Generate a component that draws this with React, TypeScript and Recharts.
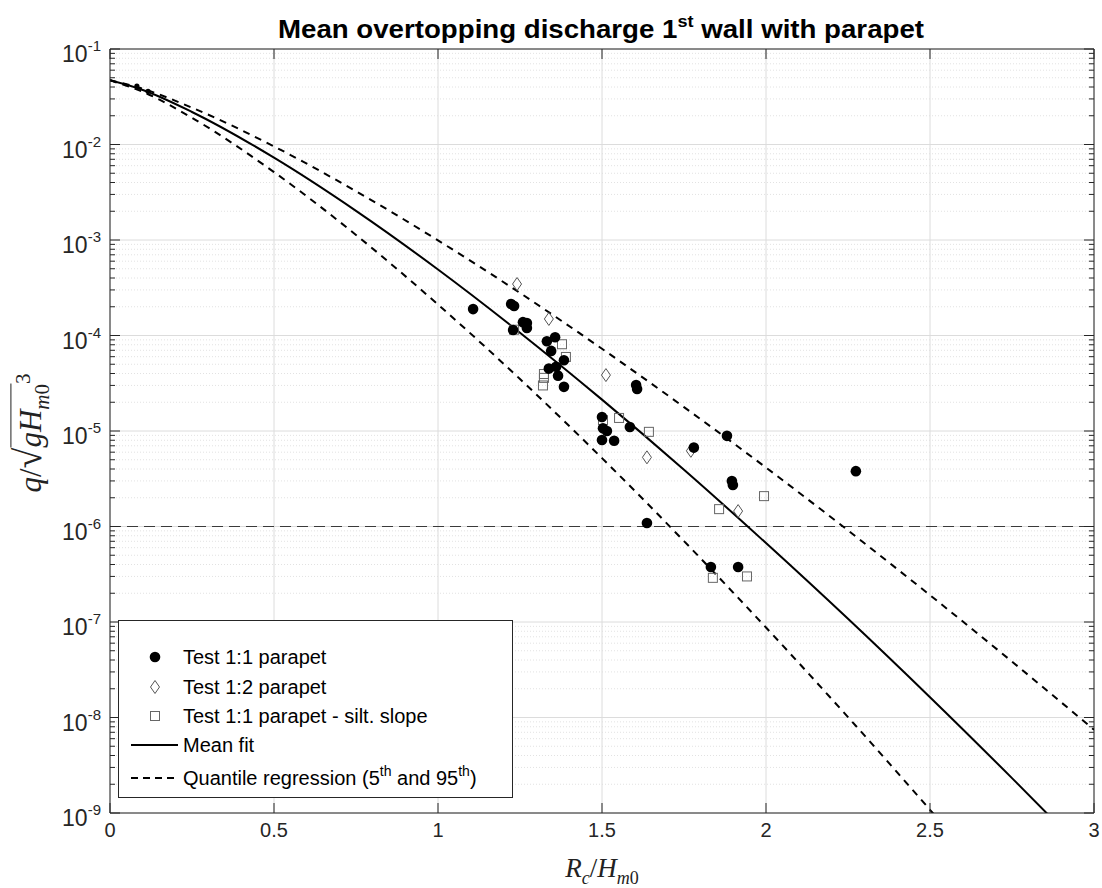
import React from "react";
import { ComposedChart, Line, Scatter, XAxis, YAxis, CartesianGrid, ReferenceLine } from "recharts";

const W = 1102;
const H = 888;
const PLOT = { left: 110, right: 1094, top: 49, bottom: 813 };
const AXIS = "#262626";

// axis ticks
const xTicks = [0, 0.5, 1, 1.5, 2, 2.5, 3];
const decades = [1e-9, 1e-8, 1e-7, 1e-6, 1e-5, 1e-4, 1e-3, 1e-2, 1e-1];
const minorSteps = [2, 3, 4, 5, 6, 7, 8, 9];
const threshold = 1e-6;

// fitted curves
const fitX = [0, 0.1, 0.25, 0.5, 0.75, 1, 1.25, 1.5, 1.75, 2, 2.25, 2.5, 2.75, 3];
const meanFit = [4.7e-2, 3.72e-2, 2.19e-2, 7.28e-3, 2.02e-3, 4.91e-4, 1.07e-4, 2.13e-5, 3.93e-6, 6.71e-7, 1.08e-7, 1.63e-8, 2.32e-9, 3.15e-10];
const upperQuantile = [4.7e-2, 3.83e-2, 2.43e-2, 9.55e-3, 3.24e-3, 9.91e-4, 2.79e-4, 7.26e-5, 1.78e-5, 4.14e-6, 9.1e-7, 1.91e-7, 3.85e-8, 7.45e-9];
const lowerQuantile = [4.7e-2, 3.56e-2, 1.9e-2, 5.14e-3, 1.13e-3, 2.11e-4, 3.5e-5, 5.2e-6, 7.03e-7, 8.75e-8, 1.01e-8, 1.08e-9, 1.09e-10, 1.0e-11];

// Test 1:1 parapet
const test11X = [1.107, 1.223, 1.232, 1.259, 1.271, 1.271, 1.229, 1.357, 1.332, 1.345, 1.384, 1.338, 1.36, 1.366, 1.384, 1.604, 1.607, 1.5, 1.503, 1.515, 1.585, 1.5, 1.537, 1.78, 1.881, 1.896, 1.899, 2.274, 1.637, 1.832, 1.915];
const test11Y = [1.89e-4, 2.14e-4, 2.04e-4, 1.38e-4, 1.35e-4, 1.2e-4, 1.14e-4, 9.6e-5, 8.7e-5, 6.9e-5, 5.5e-5, 4.5e-5, 4.7e-5, 3.8e-5, 2.9e-5, 3.03e-5, 2.75e-5, 1.4e-5, 1.07e-5, 1.0e-5, 1.1e-5, 8.05e-6, 7.9e-6, 6.7e-6, 8.9e-6, 3.0e-6, 2.72e-6, 3.8e-6, 1.09e-6, 3.77e-7, 3.77e-7];

// Test 1:2 parapet
const test12X = [1.241, 1.338, 1.512, 1.637, 1.771, 1.915];
const test12Y = [3.46e-4, 1.49e-4, 3.85e-5, 5.3e-6, 6.2e-6, 1.45e-6];

// Test 1:1 parapet - silt. slope
const siltX = [1.232, 1.378, 1.39, 1.323, 1.323, 1.32, 1.552, 1.503, 1.643, 1.994, 1.857, 1.838, 1.942];
const siltY = [1.15e-4, 8.1e-5, 5.96e-5, 3.95e-5, 3.6e-5, 3.0e-5, 1.37e-5, 1.3e-5, 9.8e-6, 2.08e-6, 1.52e-6, 2.9e-7, 3.0e-7];

// small dots on the curves near the origin
const originX = [0.082, 0.116];
const originY = [0.041, 0.036];

const zip = (xs: number[], ys: number[]) => xs.map((x, i) => ({ x, y: ys[i] }));
const minorValues = decades.slice(0, -1).flatMap((d) => minorSteps.map((k) => d * k));
const yTicks = [...decades, ...minorValues].sort((a, b) => a - b);

const Circle = (p: any) => <circle cx={p.cx} cy={p.cy} r={5.3} fill="#000" />;
const Diamond = (p: any) => (
  <polygon
    points={`${p.cx},${p.cy - 6.5} ${p.cx + 4.5},${p.cy} ${p.cx},${p.cy + 6.5} ${p.cx - 4.5},${p.cy}`}
    fill="none"
    stroke="#555"
    strokeWidth={1}
  />
);
const Square = (p: any) => <rect x={p.cx - 4.5} y={p.cy - 4.5} width={9} height={9} fill="none" stroke="#666" strokeWidth={1} />;
const Dot = (p: any) => <circle cx={p.cx} cy={p.cy} r={2.6} fill="#000" />;

function YTick(props: any) {
  const { y, payload } = props;
  const lg = Math.log10(payload.value);
  const exp = Math.round(lg);
  const major = Math.abs(lg - exp) < 1e-6;
  const len = major ? 10 : 5;
  return (
    <g>
      <line x1={PLOT.left} x2={PLOT.left + len} y1={y} y2={y} stroke={AXIS} />
      <line x1={PLOT.right} x2={PLOT.right - len} y1={y} y2={y} stroke={AXIS} />
      {major && (
        <text x={101} y={y + 13} textAnchor="end" fill={AXIS} fontFamily="Liberation Sans, Arial, sans-serif">
          <tspan fontSize={23}>10</tspan>
          <tspan fontSize={15} dy={-11}>{`-${-exp}`}</tspan>
        </text>
      )}
    </g>
  );
}

function XTick(props: any) {
  const { x, payload } = props;
  return (
    <g>
      <line x1={x} x2={x} y1={PLOT.bottom} y2={PLOT.bottom - 10} stroke={AXIS} />
      <line x1={x} x2={x} y1={PLOT.top} y2={PLOT.top + 10} stroke={AXIS} />
      <text x={x} y={PLOT.bottom + 24} textAnchor="middle" fill={AXIS} fontSize={20} fontFamily="Liberation Sans, Arial, sans-serif">
        {payload.value}
      </text>
    </g>
  );
}

function LegendBox() {
  const rows = [
    { y: 657, icon: <circle cx={155} cy={657} r={5.3} fill="#000" />, label: <>Test 1:1 parapet</> },
    { y: 687, icon: <polygon points="155,680.5 159.5,687 155,693.5 150.5,687" fill="none" stroke="#555" />, label: <>Test 1:2 parapet</> },
    { y: 716, icon: <rect x={150.5} y={711.5} width={9} height={9} fill="none" stroke="#666" />, label: <>Test 1:1 parapet - silt. slope</> },
    { y: 745, icon: <line x1={131} x2={178} y1={745} y2={745} stroke="#000" strokeWidth={2} />, label: <>Mean fit</> },
    {
      y: 778,
      icon: <line x1={131} x2={178} y1={778} y2={778} stroke="#000" strokeWidth={2} strokeDasharray="7 5" />,
      label: (
        <>
          Quantile regression (5<tspan dy={-9} fontSize={14}>th</tspan>
          <tspan dy={9}> and 95</tspan>
          <tspan dy={-9} fontSize={14}>th</tspan>
          <tspan dy={9}>)</tspan>
        </>
      ),
    },
  ];
  return (
    <svg width={W} height={H} style={{ position: "absolute", left: 0, top: 0, pointerEvents: "none" }}>
      <rect x={118.5} y={620.5} width={394} height={177} fill="#fff" stroke={AXIS} strokeWidth={1} />
      {rows.map((r, i) => (
        <g key={i}>
          {r.icon}
          <text x={183} y={r.y + 7} fontSize={20} fill="#000" fontFamily="Liberation Sans, Arial, sans-serif">
            {r.label}
          </text>
        </g>
      ))}
    </svg>
  );
}

export default function App() {
  return (
    <div style={{ position: "absolute", left: 0, top: 0, width: W, height: H, background: "#fff" }}>
      <ComposedChart
        width={W}
        height={H}
        margin={{ top: PLOT.top, right: W - PLOT.right, bottom: 35, left: 10 }}
      >
        <CartesianGrid horizontalValues={minorValues} vertical={false} stroke="#e2e2e2" strokeDasharray="1 2" />
        <CartesianGrid horizontalValues={decades} verticalValues={xTicks} stroke="#dcdcdc" />
        <XAxis
          dataKey="x"
          type="number"
          domain={[0, 3]}
          ticks={xTicks}
          interval={0}
          height={40}
          tickLine={false}
          axisLine={{ stroke: AXIS }}
          tick={<XTick />}
          allowDataOverflow
        />
        <YAxis
          dataKey="y"
          type="number"
          scale="log"
          domain={[1e-9, 1e-1]}
          ticks={yTicks}
          interval={0}
          width={100}
          tickLine={false}
          axisLine={{ stroke: AXIS }}
          tick={<YTick />}
          allowDataOverflow
        />
        <ReferenceLine y={1e-1} stroke={AXIS} />
        <ReferenceLine x={3} stroke={AXIS} />
        <ReferenceLine y={threshold} stroke="#3a3a3a" strokeWidth={1.2} strokeDasharray="11 6" />
        <Line data={zip(fitX, upperQuantile)} dataKey="y" type="monotone" stroke="#000" strokeWidth={2} strokeDasharray="7 6" dot={false} isAnimationActive={false} />
        <Line data={zip(fitX, lowerQuantile)} dataKey="y" type="monotone" stroke="#000" strokeWidth={2} strokeDasharray="7 6" dot={false} isAnimationActive={false} />
        <Line data={zip(fitX, meanFit)} dataKey="y" type="monotone" stroke="#000" strokeWidth={2} dot={false} isAnimationActive={false} />
        <Scatter data={zip(siltX, siltY)} shape={Square} isAnimationActive={false} />
        <Scatter data={zip(test12X, test12Y)} shape={Diamond} isAnimationActive={false} />
        <Scatter data={zip(test11X, test11Y)} shape={Circle} isAnimationActive={false} />
        <Scatter data={zip(originX, originY)} shape={Dot} isAnimationActive={false} />
      </ComposedChart>

      <svg width={W} height={PLOT.top} style={{ position: "absolute", left: 0, top: 0 }}>
        <text
          x={601}
          y={38}
          textAnchor="middle"
          fontSize={26}
          fontWeight="bold"
          fill="#000"
          fontFamily="Liberation Sans, Arial, sans-serif"
          textLength={646}
          lengthAdjust="spacingAndGlyphs"
        >
          Mean overtopping discharge 1<tspan dy={-11} fontSize={17}>st</tspan>
          <tspan dy={11}> wall with parapet</tspan>
        </text>
      </svg>

      <LegendBox />

      <div
        style={{
          position: "absolute",
          left: 602,
          top: 871,
          transform: "translate(-50%, -50%)",
          fontFamily: "Liberation Serif, serif",
          fontSize: 27,
          color: "#222",
          whiteSpace: "nowrap",
        }}
      >
        <i>R</i>
        <sub style={{ fontSize: 18 }}><i>c</i></sub>/<i>H</i>
        <sub style={{ fontSize: 18 }}><i>m</i>0</sub>
      </div>

      <div
        style={{
          position: "absolute",
          left: 31,
          top: 433,
          transform: "translate(-50%, -50%) rotate(-90deg)",
          fontFamily: "Liberation Serif, serif",
          fontSize: 31,
          color: "#222",
          whiteSpace: "nowrap",
          lineHeight: 1,
        }}
      >
        <i>q</i>/<span style={{ fontSize: 38 }}>√</span>
        <span style={{ borderTop: "1.7px solid #222", paddingTop: 2 }}>
          <i>gH</i>
          <sub style={{ fontSize: 21 }}><i>m</i>0</sub>
        </span>
        <sup style={{ fontSize: 21 }}>3</sup>
      </div>
    </div>
  );
}
